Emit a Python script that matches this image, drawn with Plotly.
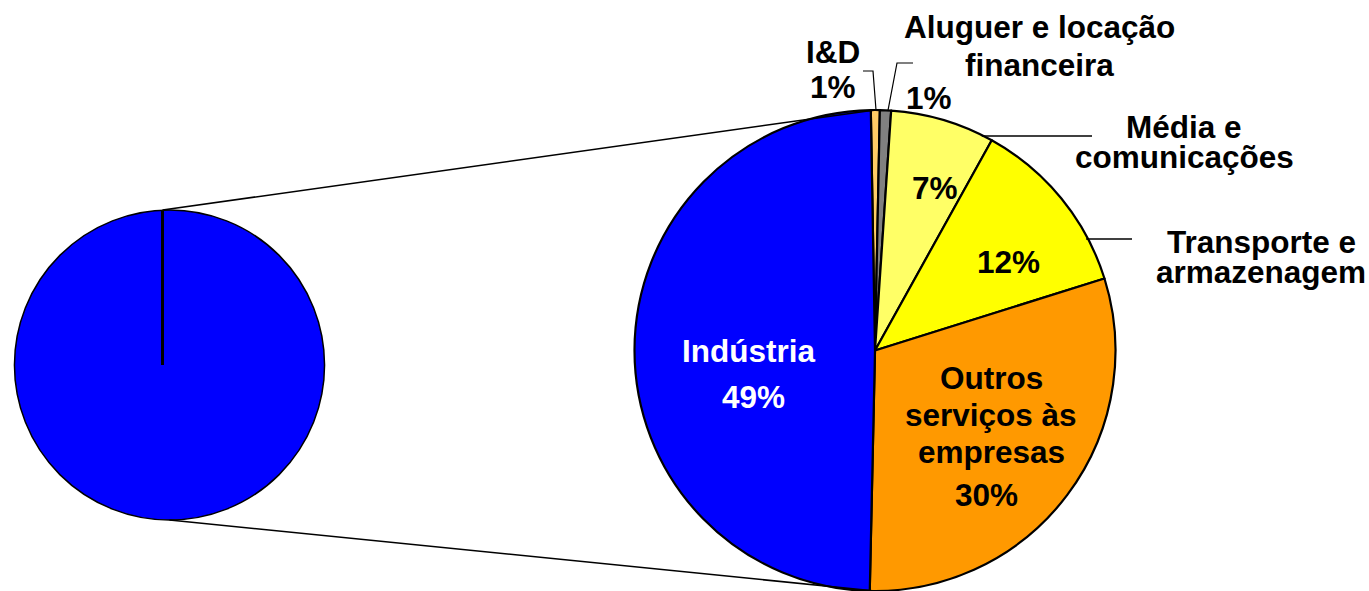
import math
import plotly.graph_objects as go

# ---------------- data ----------------
categories = ["I&D", "Aluguer e locação financeira", "Média e comunicações",
              "Transporte e armazenagem", "Outros serviços às empresas", "Indústria"]
label_lines = [["I&D"], ["Aluguer e locação", "financeira"], ["Média e", "comunicações"],
               ["Transporte e", "armazenagem"], ["Outros", "serviços às", "empresas"], ["Indústria"]]
values = [0.6, 0.75, 7.0, 12.1, 30.2, 49.4]
left_values = [sum(values)]

# ---------------- style / layout ----------------
W, H = 1369, 591
colors = ["#FFCC66", "#808080", "#FFFF66", "#FFFF00", "#FF9900", "#0000FF"]
text_colors = ["black", "black", "black", "black", "black", "white"]
FONT = "Arial, 'Liberation Sans', Helvetica, sans-serif"
FS = 31.5

R_CX, R_CY, R_R = 875, 352, 242     # right pie (px)
L_CX, L_CY, L_R = 169.5, 365, 155   # left pie (px)

# label placement (px): name lines x, first line y, line spacing; pct x, y
name_pos = [(833, 52.5, 35), (1039, 27, 38), (1184, 127, 30),
            (1261, 242, 30), (991, 377.5, 37), (748, 351, 36)]
pct_pos = [(833, 87.5), (929, 97.5), (935, 187.5), (1008, 261.5), (987, 495), (753, 396.5)]


def xp(x):
    return x / W


def yp(y):
    return 1 - y / H


def domain(cx, cy, r):
    return dict(x=[max(0, xp(cx - r)), min(1, xp(cx + r))],
                y=[max(0, yp(cy + r)), min(1, yp(cy - r))])


def actual_geom(cx, cy, r):
    d = domain(cx, cy, r)
    w = (d["x"][1] - d["x"][0]) * W
    h = (d["y"][1] - d["y"][0]) * H
    acx = (d["x"][0] + d["x"][1]) / 2 * W
    acy = H - (d["y"][0] + d["y"][1]) / 2 * H
    return acx, acy, min(w, h) / 2


rcx, rcy, rr = actual_geom(R_CX, R_CY, R_R)
lcx, lcy, lr = actual_geom(L_CX, L_CY, L_R)

fig = go.Figure()
fig.add_trace(go.Pie(
    values=left_values, labels=["Indústria e serviços"], domain=domain(L_CX, L_CY, L_R),
    marker=dict(colors=["#0000FF"], line=dict(color="black", width=1.5)),
    textinfo="none", hoverinfo="skip", sort=False, showlegend=False))
fig.add_trace(go.Pie(
    values=values, labels=categories, domain=domain(R_CX, R_CY, R_R),
    marker=dict(colors=colors, line=dict(color="black", width=2.2)),
    textinfo="none", hoverinfo="label+percent", sort=False, direction="clockwise",
    rotation=-1, showlegend=False))

shapes = []


def line(pts, width=1.5):
    path = "M " + " L ".join(f"{xp(x)},{yp(y)}" for x, y in pts)
    shapes.append(dict(type="path", path=path, xref="paper", yref="paper",
                       line=dict(color="black", width=width)))


# connector lines between the two pies
line([(lcx - 7, lcy - lr), (rcx, rcy - rr)])
line([(lcx, lcy + lr), (rcx, rcy + rr)])
# radius line in the left pie
line([(lcx - 7, lcy), (lcx - 7, lcy - lr)], width=3)


def circ_y(x):
    return rcy - math.sqrt(max(rr ** 2 - (x - rcx) ** 2, 0))


def circ_x(y):
    return rcx + math.sqrt(max(rr ** 2 - (y - rcy) ** 2, 0))


# leader lines
line([(876, circ_y(876)), (873, 71), (863, 71)], width=1.2)
line([(888, circ_y(888)), (897, 63), (913, 63)], width=1.2)
line([(circ_x(136) - 2, 136), (1092, 136)], width=1.5)
line([(circ_x(239) - 2, 239), (1132, 239)], width=1.5)

total = sum(values)
annotations = []
for i, lines_ in enumerate(label_lines):
    x0, y0, sp = name_pos[i]
    for k, t in enumerate(lines_):
        annotations.append(dict(
            text=t, x=xp(x0), y=yp(y0 + k * sp), xref="paper", yref="paper",
            xanchor="center", yanchor="middle", showarrow=False,
            font=dict(family=FONT, size=FS, color=text_colors[i], weight="bold")))
    px_, py_ = pct_pos[i]
    annotations.append(dict(
        text=f"{round(values[i] / total * 100)}%", x=xp(px_), y=yp(py_),
        xref="paper", yref="paper", xanchor="center", yanchor="middle", showarrow=False,
        font=dict(family=FONT, size=FS, color=text_colors[i], weight="bold")))

fig.update_layout(
    width=W, height=H, margin=dict(l=0, r=0, t=0, b=0),
    paper_bgcolor="white", plot_bgcolor="white",
    shapes=shapes, annotations=annotations,
)
fig.write_html("out.html", config={"displayModeBar": False},
               post_script="document.body.style.margin='0';document.body.style.overflow='hidden';")
